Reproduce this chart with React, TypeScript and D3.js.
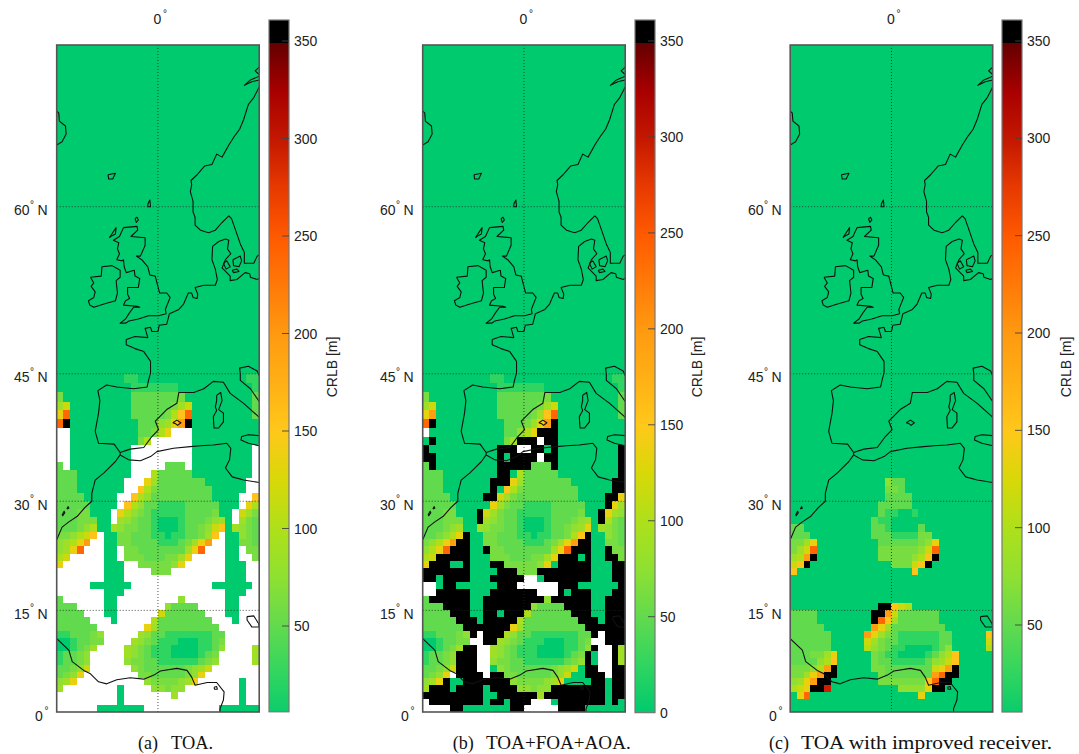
import React from "react";
import * as d3 from "d3";

// ---------- data ----------
const latGrid = [60, 45, 30, 15];
const lonGrid = [0];
const colorTicks = [50, 100, 150, 200, 250, 300, 350];
const captions = [["(a)", "TOA."], ["(b)", "TOA+FOA+AOA."], ["(c)", "TOA with improved receiver."]];

// CRLB in metres per 1 degree cell. '.' clear, a..k rising, x very high, # above scale, _ no solution
const codeValues: Record<string, number | null> = {
  ".": 0, a: 24, b: 50, c: 62, d: 75, e: 88, f: 100, g: 118, h: 135, i: 155, j: 195, k: 240, x: 295, "#": 400, _: null,
};
const topRowLat = 44;
const clear = "..............................";

const rowsA = [
  "..........aa................aa",
  "...........aaaaaaa...........a",
  "c..........bbbbbbbc..........b",
  "eg.........bbbbbbceg.........b",
  "hk.........bbbbbcfik.........b",
  "k#..........bbbdehj#..........",
  "__..........bbcfh___..........",
  "__..........cf______..........",
  "__........._________........._",
  "__........._________........._",
  "b_........._____bbb_........._",
  "bbb........___fbbbbb........._",
  "bbb.......___hebbbbbbb......__",
  "bbb.......__ifcbbbbbbbb.....__",
  "bbbb.....__ifdbbbbbbbbb....__i",
  "bbbbb...._ifdbbaaaabbbbb..._hf",
  "bbbcc..._hfdcbaaaaabbbbc.._gec",
  "bbbccc.._edcbba...abbbcde._ecb",
  "bbbcdf..edccbba...abbcdgi.edcb",
  "ccdfgi_..ccbbbaa.aabbcei_..dcb",
  "defhj__..ccbbbbaaabcehj__..ccb",
  "dehk___.._ccbbbbbbbehk___.._cc",
  "fg_____.._cccbbbcceh_____..__c",
  "h______...__cccccdh______...__",
  "_______...____ccc________...__",
  "_______..._______________...__",
  "_____......____________......_",
  "_______..._______________...__",
  "b______.._________d______..___",
  "bbb____.._______dbbbb____..___",
  "bbbb___..______gbbbbbb___..___",
  "bbbbb___._____fbbbbbbbb___.___",
  "bbbbbb_______hebbbbbbbbb______",
  "aabbbcd_____edbbaaaaaaabb_____",
  "..abbcc____edcbaaa...aabc_____",
  "..abce____edcbaaa....aabd____e",
  "abbcd_____edcbaaa....abc_____e",
  "abbcd_____dccbbaaaaaabcd_____e",
  "bbcdg______dcbbbbbbcdeg_______",
  "bcdh________ccbbbbbcdh________",
  "deh__________dccccdeh______.__",
  "e________.____ddcdd________.__",
  "_________._______e_________.__",
  "_________._________________.__",
  "______.......___________......",
];

const rowsB = [
  "..........aa................aa",
  "...........aaaaaaa...........a",
  "c..........bbbbbbbc..........b",
  "eg.........bbbbbbceg.........b",
  "hj.........bbbbbceik.........b",
  "k#..........bbbcehj#..........",
  "_...........bbdfh###..........",
  ".#..........ce###_##..........",
  "#..........###__##.#.........#",
  "##.........#.####_##.........#",
  "b#.........#####bbb#.........#",
  "bbb........##.fbbbbb.........#",
  "bbb.......###hebbbbbbb......##",
  "bbb.......#.ifcbbbbbbbb.....##",
  "bbbb.....##gecbbbbbbbbb....##h",
  "bbbbb.....hecbbaaaabbbbb...#he",
  "bbbcc...#gecbbaaaaabbbbc..#hed",
  "bbbccc..#edcbba...abbbcde.#fcb",
  "bbbcde..edccbba...abbcdeh.edcb",
  "bbcdfh#..ccbbbaa.aabbcfi#..dcb",
  "cdfhj##..ccbbbbaaabcehj##..ccb",
  "dfhk###..#ccbbbbbbbehk###..#cc",
  "fg#####...cccbbbcceh###.#..##c",
  "h###..#...##cccccdh.#####...##",
  "#######....###ccc########...##",
  "##.####...#####__.#######...##",
  "__.##......###______###......#",
  "__#####...#######___#.###...##",
  "b######..#########d######..###",
  "bbb####..#######dbbbb####..###",
  "bbbb###..##.###fbbbbbb###..###",
  "bbbbb###.#####fbbbbbbbb###.###",
  "bbbbbb#######hebbbbbbbbb######",
  "aabbbcd#_###fdbbaaaaaaabb#_###",
  "..abbcc__##edcbaaa...aabc__###",
  "..abce##__edcbaaa....aabd#__#e",
  "abbcd###__edcbaaa....abc#.__#e",
  "abbcd###__dccbbaaaaaabcd#.__#e",
  "bbcdg###__.dcbbbbbbcdeg.##__##",
  "bcdh_####_##ccbbbbbcdg..###_##",
  "deh#..#######dccccdeh....##.##",
  "e###.####.####ddcdd########.##",
  "#########..######e#########.##",
  "_########.##.###___.#######.#.",
  "____##.......##_____####......",
];

const rowsC = [
  clear, clear, clear, clear, clear, clear, clear, clear, clear, clear, clear, clear,
  "..............dbb.............",
  "..............ccb.............",
  "..............bbbb............",
  ".............bbbbb............",
  ".............baa..a...........",
  "............baa...............",
  "bb..........bba....b..........",
  "bbb.........bbbaaaacc.........",
  "cceh.........bbbbbbcdh........",
  "cegk.........ccccccdgk........",
  "efj#.........cccccdfi#........",
  "gi#............cccgi#.........",
  "i.................i...........",
  clear, clear, clear, clear,
  ".............##igf............",
  "bbbb........##jgbbbbbb........",
  "bbbb........#kiebbbbbb........",
  "bbbbb.......jhebbbbbbbb.......",
  "bbbbbb.....jhecbaaaaaabb.....i",
  "bbbbbb.....gecbbaaaaaabb.....g",
  "bbbbbb.....fdcbaa....abd.....f",
  "bbbcceh.....cbaa....abdfi.....",
  "bbbbdfi.....cbbaaaaabdegi.....",
  "cccdfj#.....ccbbbbbbbghj#.....",
  "ccehj##......cbbbbbbbjk##.....",
  "dehj##.......cccccccik##......",
  "fgh##x..........ddddh##.......",
  ".hk................h..........",
  clear, clear,
];

// colour ramp (metres -> colour)
const rampValues = [0, 25, 50, 75, 100, 125, 150, 175, 200, 225, 250, 275, 300, 325, 350];
const rampColors = ["#00ca6e", "#30d560", "#62da4e", "#8fe032", "#aee01a", "#d8d808", "#ffc81a", "#ffb015", "#ff9a10", "#ff7a08", "#ff5a00", "#e83a00", "#c41800", "#a80000", "#640000"];

// coast lines as [lon, lat] in degrees
type Pt = [number, number];
const iceland: Pt[] = [[-15, 66.4], [-14.7, 66.3], [-14.6, 65.8], [-13.7, 65.5], [-13.6, 65], [-14.2, 64.5], [-15, 64.3]];
const lofotenA: Pt[] = [[15, 68.9], [14.4, 68.7], [15, 68.5]];
const lofotenB: Pt[] = [[15, 68.4], [13.7, 68.2], [12.8, 67.9], [13.9, 68.1], [15, 68.2]];
const scandinavia: Pt[] = [[15, 67.8], [14.2, 67.2], [13.4, 66.8], [12.7, 65.9], [12.1, 65.3], [11.4, 64.9], [10.5, 64.3], [9.5, 63.5], [8.7, 63.7], [8, 63], [6.9, 62.9], [5.8, 62.3], [4.9, 61.9], [5, 61.6], [4.8, 61.1], [5.2, 60.4], [5.2, 59.6], [5.5, 59.2], [5.5, 58.6], [6.3, 58.2], [7.5, 58], [8.5, 58.2], [9.5, 58.8], [10.5, 59.3], [10.9, 59.1], [11.5, 58.2], [12.2, 57.1], [12.8, 56.4], [12.8, 55.5], [14.2, 55.5], [14.7, 56.1], [15, 56.2]];
const faroe: Pt[] = [[-7.4, 62.3], [-6.3, 62.4], [-6.7, 62], [-7.3, 62], [-7.4, 62.3]];
const shetland: Pt[] = [[-1.5, 60.2], [-1.2, 60.5], [-1.1, 60], [-1.5, 60], [-1.5, 60.2]];
const orkney: Pt[] = [[-3.4, 59.1], [-3.1, 59.2], [-2.9, 59], [-3.2, 58.8], [-3.4, 59.1]];
const hebrides: Pt[] = [[-7.2, 57.6], [-6.2, 58.4], [-6.3, 57.9], [-7, 57.7], [-7.2, 57.6]];
const britain: Pt[] = [[-5.1, 58.4], [-3.1, 58.5], [-3, 58.2], [-4, 57.7], [-1.9, 57.6], [-1.9, 57], [-2.6, 56.1], [-3.2, 56.1], [-2.4, 55.8], [-1.5, 55.2], [-1.2, 54.5], [-0.4, 54.4], [0.25, 52.9], [1.3, 52.9], [1.8, 52.5], [1.1, 51.4], [1.2, 51], [0.1, 50.8], [-1.4, 50.8], [-2.9, 50.5], [-4.3, 50.3], [-4.8, 50.1], [-5.6, 50.1], [-4.8, 50.5], [-4.2, 51.1], [-3.6, 51.6], [-2.7, 51.6], [-3.1, 51.7], [-5.1, 51.8], [-4.8, 52.2], [-4.2, 52.4], [-4.5, 52.8], [-4.5, 53.4], [-2.9, 53.4], [-2.7, 54.2], [-3.4, 54.4], [-3.5, 54.9], [-4.7, 54.7], [-5, 55.2], [-5.1, 55.8], [-5.3, 55.7], [-6.1, 55.8], [-5.7, 56.3], [-6, 56.7], [-5.8, 57.2], [-6.6, 57.4], [-5.7, 57.7], [-5.1, 58.4]];
const ireland: Pt[] = [[-10, 54.3], [-8.4, 54.4], [-8.3, 55.2], [-6.8, 55.3], [-5.6, 54.9], [-5.6, 54.3], [-6.2, 54], [-6, 52.9], [-6.3, 52.2], [-8, 51.9], [-9.5, 51.6], [-10.1, 51.8], [-10.3, 52.2], [-9.5, 52.5], [-9.3, 53], [-9.9, 53.5], [-9.5, 53.8], [-10, 54.3]];
const iberiaAtlanticToBaltic: Pt[] = [[-5.6, 36.1], [-6.5, 37.1], [-8.8, 37.2], [-9.3, 38.6], [-8.8, 40.7], [-8.6, 42.1], [-8.9, 43.2], [-7.6, 43.8], [-6.1, 43.6], [-3.6, 43.4], [-1.6, 43.6], [-1.4, 44.3], [-1.1, 45.1], [-1.1, 46.3], [-2.1, 47.3], [-3.4, 47.6], [-4.7, 48], [-4.7, 48.5], [-3.4, 48.8], [-1.5, 48.7], [-1.9, 49.6], [-1.1, 49.7], [-0.9, 49.3], [0, 49.3], [0.2, 49.9], [1.3, 50], [1.7, 51], [3.1, 51.4], [3.8, 51.9], [4.5, 52.9], [5, 52.9], [5.2, 52.5], [5.8, 52.4], [5.9, 52.8], [5.5, 53.4], [6.8, 53.6], [8.5, 53.6], [8.8, 54.1], [8.5, 55], [8, 55.8], [8.1, 56.9], [9, 57.3], [10, 57.5], [10.5, 57.4], [10.3, 56.7], [10.8, 56.3], [10, 55.8], [9.5, 55.1], [10.7, 54.4], [10.7, 54], [11.7, 54.1], [12.9, 54.7], [13.6, 54.6], [13.7, 54.3], [14.7, 54.1], [15, 54.2]];
const funen: Pt[] = [[9.7, 55.5], [10.2, 55.7], [10.7, 55.2], [10.1, 55], [9.7, 55.5]];
const zealand: Pt[] = [[11.1, 55.8], [12.2, 56.1], [12.4, 55.7], [12, 55.2], [11.2, 55.3], [11.1, 55.8]];
const lolland: Pt[] = [[11, 54.9], [11.7, 55], [12, 54.8], [11.2, 54.7], [11, 54.9]];
const mediterraneanNorth: Pt[] = [[-5.6, 36.1], [-4.1, 36.5], [-2.1, 36.7], [-0.9, 38], [0.1, 38.8], [-0.4, 39.8], [1.3, 41.1], [2.8, 41.8], [3.1, 43], [5.3, 43], [6.8, 43.4], [8.2, 44.2], [9.7, 44.1], [10.7, 42.9], [12.7, 41.8], [14.9, 40.3], [15, 40.2]];
const adriatic: Pt[] = [[15, 42], [13.7, 43.4], [12.2, 44.3], [12.2, 45], [12.1, 45.6], [13.4, 45.8], [14.7, 45.3], [15, 44.8]];
const mallorca: Pt[] = [[2.2, 39.6], [2.8, 39.9], [3.4, 39.6], [2.9, 39.3], [2.6, 39.5], [2.2, 39.6]];
const corsicaSardinia: Pt[] = [[8.7, 42.7], [9.3, 43], [9.5, 42.1], [9, 41.1], [9.7, 40.7], [9.7, 39.7], [9, 39], [8.3, 39], [8.2, 40.3], [8.7, 41], [8.5, 41.4], [8.7, 42.1], [8.7, 42.7]];
const sicily: Pt[] = [[15, 38.1], [13.4, 38.2], [12.4, 38], [12.3, 37.6], [13.4, 37.2], [15, 36.9]];
const northAfrica: Pt[] = [[-5.6, 35.8], [-4.3, 35.2], [-2.6, 35.1], [-1.1, 35.6], [-0.15, 36.2], [2.3, 36.6], [4.8, 36.8], [6.3, 36.9], [8.2, 37], [10.2, 37.2], [10.8, 36.6], [10.6, 35.2], [10, 34.2], [11, 33.1], [12.7, 32.7], [15, 32.4]];
const morocco: Pt[] = [[-5.6, 36.1], [-5.6, 35.8], [-6.3, 35], [-8, 33.6], [-9.3, 32.7], [-9.8, 31], [-9.8, 30], [-10.8, 29.2], [-12, 28], [-13.2, 27.3], [-14.2, 26.6], [-15, 24.9]];
const canaryA: Pt[] = [[-14.2, 28.2], [-13.9, 28.7], [-13.8, 28.5], [-14.1, 28.1], [-14.2, 28.2]];
const canaryB: Pt[] = [[-13.5, 29], [-13.3, 29.3], [-13.2, 29.1], [-13.5, 29]];
const gulfOfGuinea: Pt[] = [[-15, 10.9], [-13.2, 9.2], [-12.7, 7.5], [-11, 6.2], [-10, 5.7], [-8.8, 4.5], [-7.6, 4.2], [-6.1, 4.8], [-4.1, 5.1], [-2.1, 4.9], [-0.6, 5.5], [0.35, 6.1], [2.8, 6.5], [4.3, 6.2], [5, 5.2], [5.5, 4], [7.3, 4.4], [8.7, 4.4], [9.8, 3], [9.7, 1.8], [9.2, 0.5], [9.2, 0]];
const bioko: Pt[] = [[8.3, 3.7], [8.7, 3.8], [8.8, 3.4], [8.4, 3.4], [8.3, 3.7]];
const lakeChad: Pt[] = [[13.2, 14.1], [14.2, 14.2], [14.9, 13.1], [15, 12.6], [13.9, 12.6], [13.2, 13.6], [13.2, 14.1]];
const coasts: Pt[][] = [iceland, lofotenA, lofotenB, scandinavia, faroe, shetland, orkney, hebrides, britain, ireland, iberiaAtlanticToBaltic, funen, zealand, lolland, mediterraneanNorth, adriatic, mallorca, corsicaSardinia, sicily, northAfrica, morocco, canaryA, canaryB, gulfOfGuinea, bioko, lakeChad];

// ---------- layout ----------
const MAP_TOP = 45, MAP_BOTTOM = 712, MAP_W = 202.5;
const BAR_TOP = 20, BAR_W = 20;
const panels = [
  { id: "a", rows: rowsA, x0: 56.7, barX: 269, labelX: 14, zeroX: 35, axisX: 332, barV: [6, 361], v350: 41, v50: 626, ticks: colorTicks },
  { id: "b", rows: rowsB, x0: 422.7, barX: 635, labelX: 380, zeroX: 401, axisX: 697, barV: [0, 361], v350: 41, v50: 616.7, ticks: [0, ...colorTicks] },
  { id: "c", rows: rowsC, x0: 790.2, barX: 1002, labelX: 748, zeroX: 769, axisX: 1066, barV: [5.3, 361], v350: 41, v50: 625, ticks: colorTicks },
];
const captionX = [[138, 171, 42], [452.7, 486, 144.7], [769, 801, 251]];

const merc = (lat: number) => Math.log(Math.tan(Math.PI / 4 + (lat * Math.PI) / 360));
const yMap = d3.scaleLinear().domain([0, merc(60)]).range([MAP_BOTTOM, 206.7]);
const color = d3.scaleLinear<string>().domain(rampValues).range(rampColors).clamp(true);
const SANS = "'Liberation Sans', Arial, sans-serif";
const TEXT = "#222";

function Panel({ p, idx }: any) {
  const x = d3.scaleLinear().domain([-15, 15]).range([p.x0, p.x0 + MAP_W]);
  const line = d3.line<Pt>().x((d) => x(d[0])).y((d) => yMap(merc(d[1])));
  const bar = d3.scaleLinear().domain([50, 350]).range([p.v50, p.v350]);
  const barBottom = bar(p.barV[0]);
  const t = d3.scaleLinear().domain([350, p.barV[0]]).range([0, 1]);
  const stops = [...rampValues.filter((v) => v > p.barV[0]), p.barV[0]].sort((m, n) => n - m);
  return (
    <g>
      <defs>
        <clipPath id={`clip-${p.id}`}>
          <rect x={p.x0} y={MAP_TOP} width={MAP_W} height={MAP_BOTTOM - MAP_TOP} />
        </clipPath>
        <linearGradient id={`grad-${p.id}`} x1="0" x2="0" y1="0" y2="1">
          {stops.map((v: number) => (
            <stop key={v} offset={t(v)} stopColor={color(v)} />
          ))}
        </linearGradient>
      </defs>
      <rect x={p.x0} y={MAP_TOP} width={MAP_W} height={MAP_BOTTOM - MAP_TOP} fill={color(codeValues["."] as number)} />
      <g shapeRendering="crispEdges">
        {p.rows.map((row: string, r: number) =>
          row.split("").map((ch, c) => {
            const lat = topRowLat - r;
            const lon = -15 + c;
            const v = codeValues[ch];
            if (ch === ".") return null;
            const y1 = yMap(merc(lat + 1));
            const y0 = yMap(merc(lat));
            return (
              <rect key={`${r}-${c}`} x={x(lon)} y={y1} width={x(lon + 1) - x(lon)} height={y0 - y1}
                fill={v === null ? "#fff" : v > 350 ? "#000" : color(v)} />
            );
          })
        )}
      </g>
      <g clipPath={`url(#clip-${p.id})`}>
        {latGrid.map((l) => (
          <line key={l} x1={p.x0} x2={p.x0 + MAP_W} y1={yMap(merc(l))} y2={yMap(merc(l))} stroke="#222" strokeWidth={0.8} strokeDasharray="1 2" />
        ))}
        {lonGrid.map((l) => (
          <line key={l} x1={x(l)} x2={x(l)} y1={MAP_TOP} y2={MAP_BOTTOM} stroke="#222" strokeWidth={0.8} strokeDasharray="1 2" />
        ))}
        {coasts.map((c, i) => (
          <path key={i} d={line(c) as string} fill="none" stroke="#111" strokeWidth={1.1} strokeLinejoin="round" />
        ))}
      </g>
      <rect x={p.x0} y={MAP_TOP} width={MAP_W} height={MAP_BOTTOM - MAP_TOP} fill="none" stroke="#555" strokeWidth={1.6} />

      {/* map labels */}
      <text x={x(0) - 4.5} y={24} fontFamily={SANS} fontSize={14} fill={TEXT}>0</text>
      <text x={x(0) + 5} y={17} fontFamily={SANS} fontSize={10} fill={TEXT}>°</text>
      {latGrid.map((l) => (
        <g key={l} fontFamily={SANS} fill={TEXT}>
          <text x={p.labelX} y={yMap(merc(l)) + 8.5} fontSize={14}>{l}</text>
          <text x={p.labelX + 16} y={yMap(merc(l)) + 1} fontSize={10}>°</text>
          <text x={p.labelX + 23.5} y={yMap(merc(l)) + 8.5} fontSize={14}>N</text>
        </g>
      ))}
      <text x={p.zeroX} y={721} fontFamily={SANS} fontSize={14} fill={TEXT}>0</text>
      <text x={p.zeroX + 9.5} y={714} fontFamily={SANS} fontSize={10} fill={TEXT}>°</text>

      {/* colour bar */}
      <rect x={p.barX} y={BAR_TOP} width={BAR_W} height={p.v350 - BAR_TOP + 2} fill="#000" />
      <rect x={p.barX} y={bar(350) + 2} width={BAR_W} height={barBottom - bar(350) - 2} fill={`url(#grad-${p.id})`} />
      <rect x={p.barX} y={BAR_TOP} width={BAR_W} height={barBottom - BAR_TOP} fill="none" stroke="#777" strokeWidth={1.2} />
      {p.ticks.map((v: number) => (
        <g key={v}>
          {v > 0 && <line x1={p.barX + BAR_W - 7} x2={p.barX + BAR_W} y1={bar(v)} y2={bar(v)} stroke="#444" strokeWidth={0.9} />}
          <text x={p.barX + BAR_W + 5} y={bar(v) + 5} fontFamily={SANS} fontSize={14} fill={TEXT}>{v}</text>
        </g>
      ))}
      <text transform={`translate(${p.axisX + 5},367) rotate(-90)`} textAnchor="middle" fontFamily={SANS} fontSize={14} fill={TEXT}>CRLB [m]</text>

      {/* caption */}
      <g fontFamily="'Liberation Serif', serif" fontSize={18} fill="#111">
        <text x={captionX[idx][0]} y={748.5}>{captions[idx][0]}</text>
        <text x={captionX[idx][1]} y={748.5} textLength={captionX[idx][2]} lengthAdjust="spacingAndGlyphs">{captions[idx][1]}</text>
      </g>
    </g>
  );
}

export default function App() {
  return (
    <svg width={1079} height={754} viewBox="0 0 1079 754"
      style={{ position: "absolute", left: 0, top: 0, background: "#fff" }}>
      {panels.map((p, i) => (
        <Panel key={p.id} p={p} idx={i} />
      ))}
    </svg>
  );
}
